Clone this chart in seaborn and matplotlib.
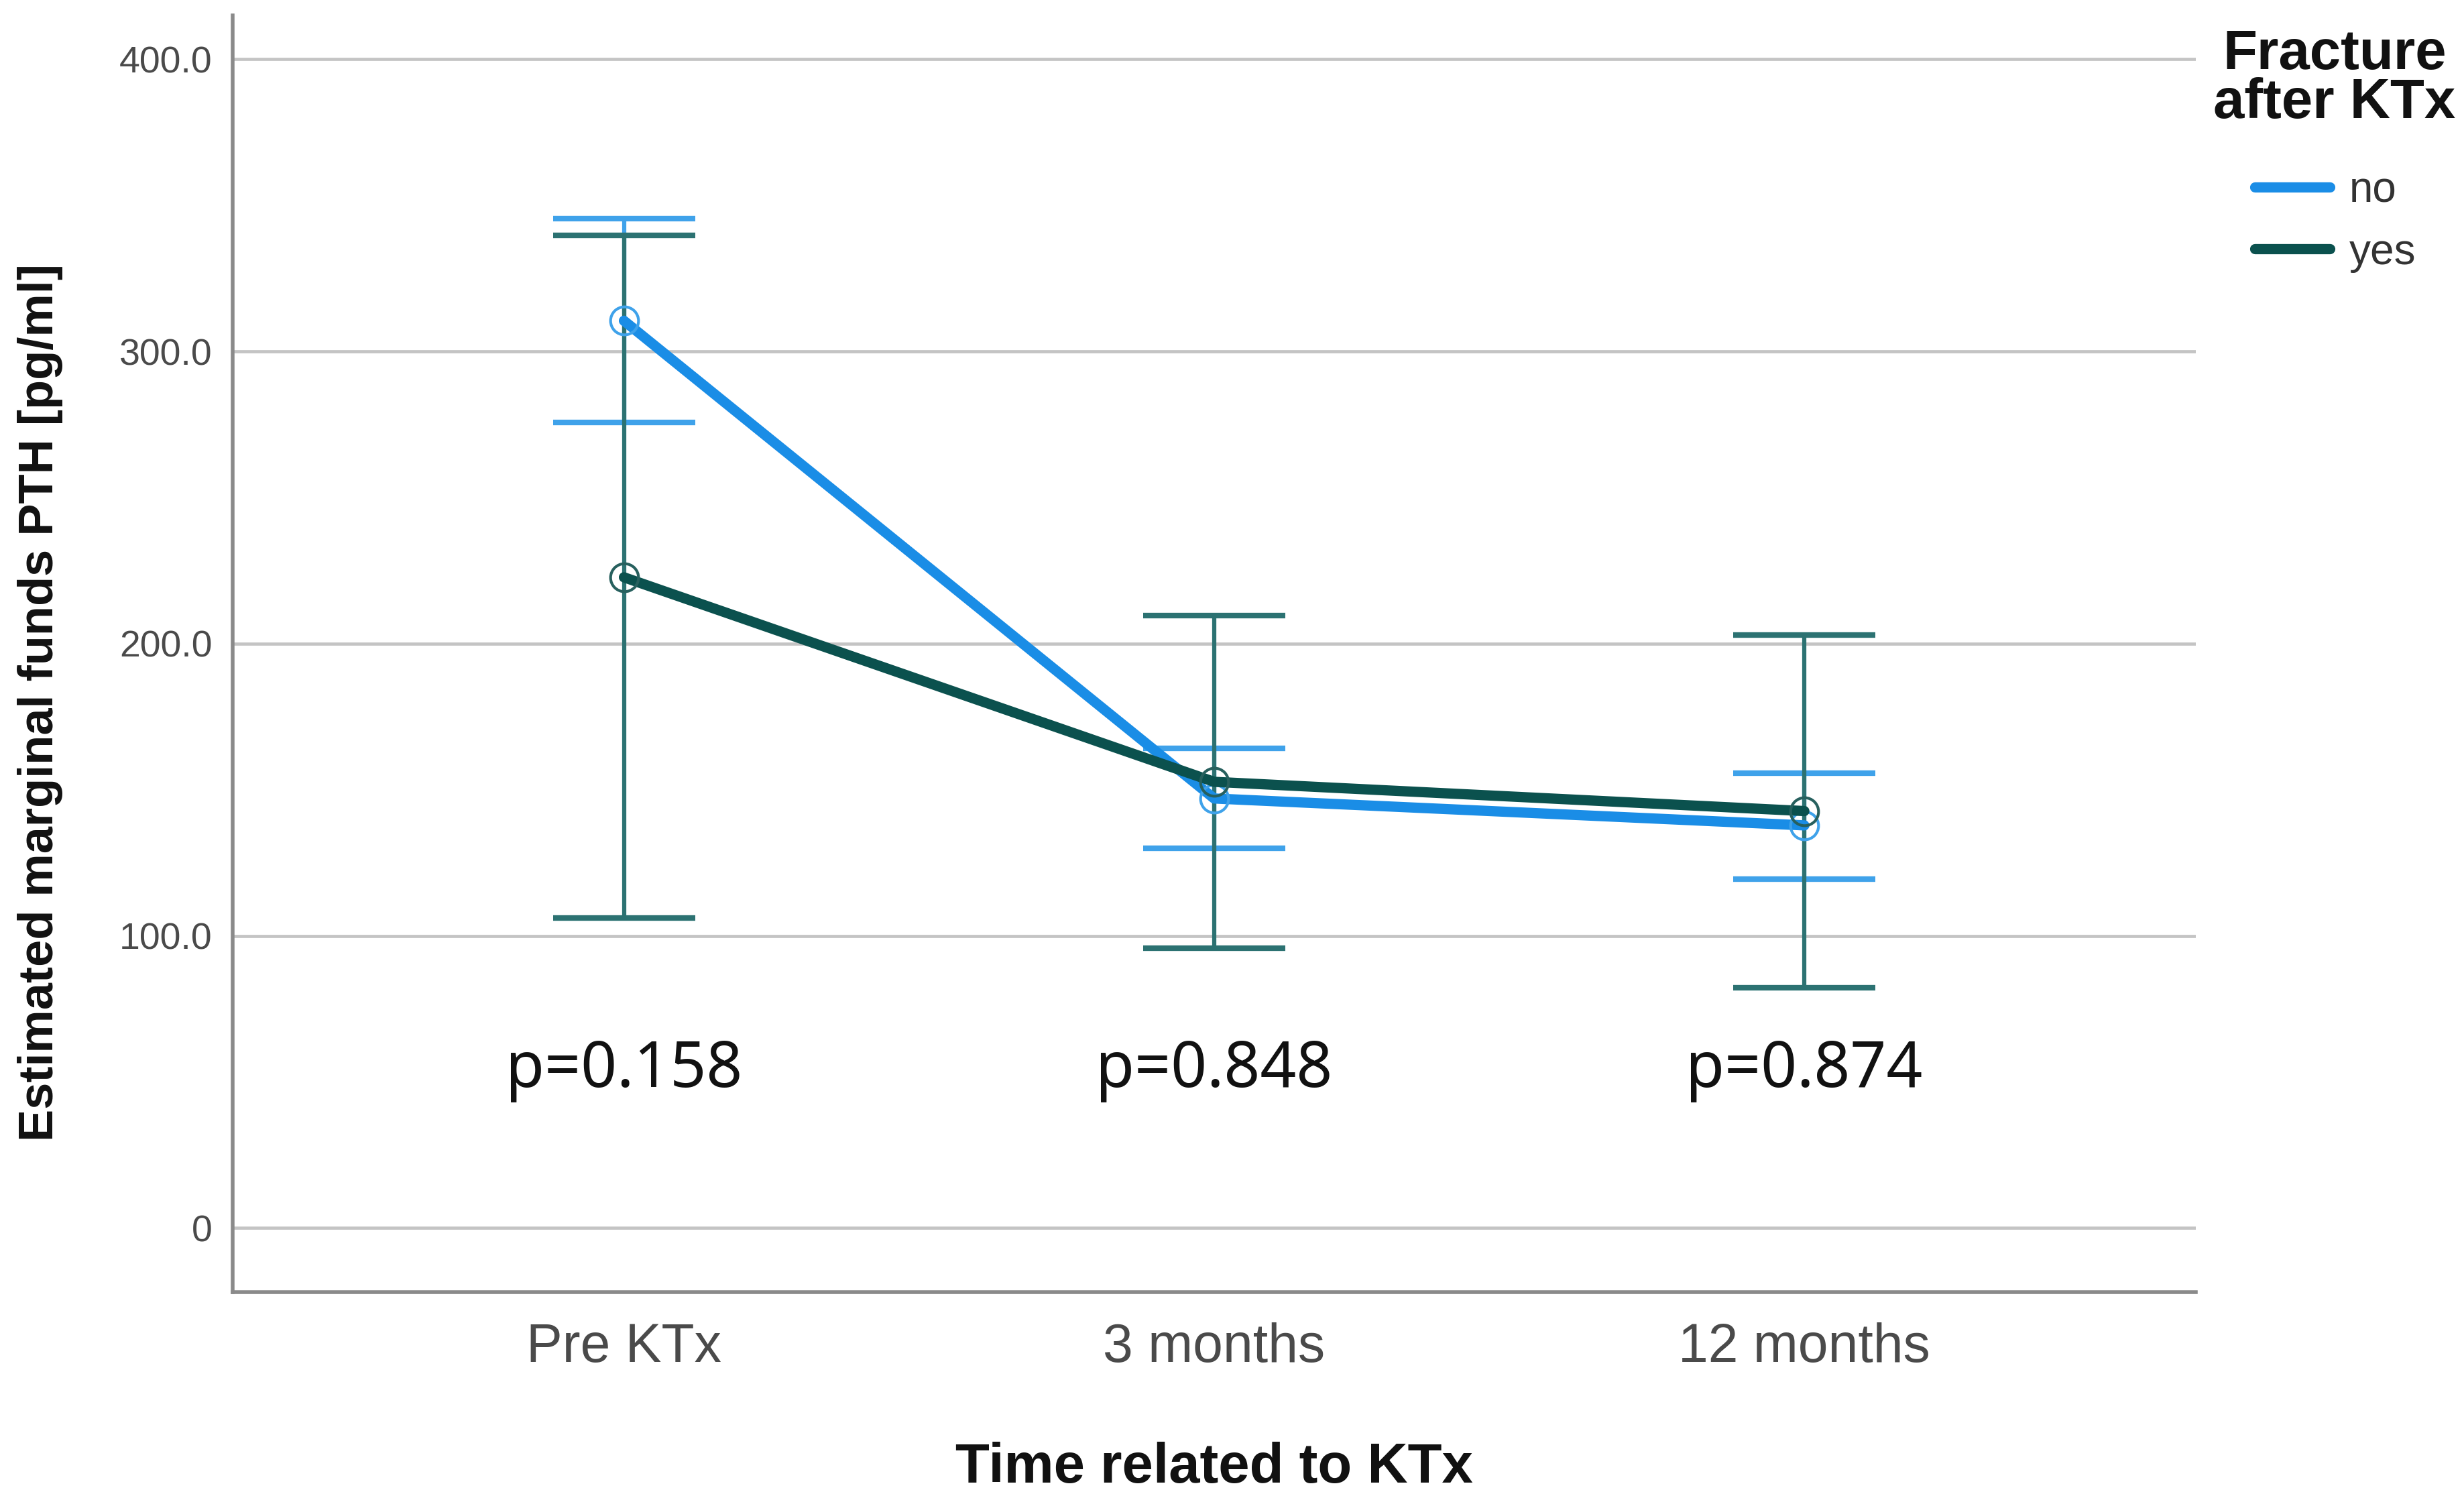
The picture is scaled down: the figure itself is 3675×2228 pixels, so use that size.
import matplotlib
matplotlib.use("Agg")
import matplotlib.pyplot as plt
from matplotlib.lines import Line2D
import seaborn as sns
import pandas as pd

# ---- data ----
categories = ["Pre KTx", "3 months", "12 months"]
no_mean = [310.5, 147.0, 137.8]
no_lo = [275.8, 129.9, 119.5]
no_hi = [345.4, 164.2, 155.6]
yes_mean = [222.7, 152.7, 142.7]
yes_lo = [106.0, 95.8, 82.3]
yes_hi = [339.7, 209.7, 202.9]
p_labels = ["p=0.158", "p=0.848", "p=0.874"]
group_labels = ["no", "yes"]
y_ticks = [0, 100, 200, 300, 400]
y_ticklabels = ["0", "100.0", "200.0", "300.0", "400.0"]

sns.set_theme(style="white")
plt.rcParams["font.family"] = ["Liberation Sans", "DejaVu Sans"]

line_colors = {"no": "#1a8de6", "yes": "#0b514e"}
err_colors = {"no": "#3fa2ea", "yes": "#2c7272"}
mark_colors = {"no": "#3fa2ea", "yes": "#27605e"}

df = pd.DataFrame({
    "time": categories * 2,
    "group": ["no"] * 3 + ["yes"] * 3,
    "value": no_mean + yes_mean,
    "lo": no_lo + yes_lo,
    "hi": no_hi + yes_hi,
})

fig = plt.figure(figsize=(36.75, 22.28), dpi=100)
ax = fig.add_axes([0.0944, 0.135, 0.7967, 0.8547])

for g in group_labels:
    sub = df[df["group"] == g]
    sns.lineplot(data=sub, x="time", y="value", ax=ax, color=line_colors[g],
                 lw=11, marker="o", markersize=30, markerfacecolor="none",
                 markeredgecolor=mark_colors[g], markeredgewidth=3,
                 sort=False, zorder=3 if g == "no" else 4, legend=False)

xs = list(range(len(categories)))
for g in group_labels:
    sub = df[df["group"] == g]
    m = sub["value"].to_numpy()
    lo = sub["lo"].to_numpy()
    hi = sub["hi"].to_numpy()
    ax.errorbar(xs, m, yerr=[m - lo, hi - m], fmt="none",
                ecolor=err_colors[g], elinewidth=4.5, capsize=76,
                capthick=6.0, zorder=2 if g == "no" else 2.5)

for x, t in zip(xs, p_labels):
    ax.text(x, 54, t, ha="center", va="center", fontsize=68,
            family=["Noto Sans", "DejaVu Sans"], color="#111111")

ax.set_xlim(-0.663, 2.663)
ax.set_ylim(-22, 415)
ax.set_yticks(y_ticks)
ax.set_yticklabels(y_ticklabels)
ax.set_xticks(xs)
ax.set_xticklabels(categories)
ax.yaxis.grid(True, color="#c4c4c4", lw=3.4)
ax.set_axisbelow(True)
ax.tick_params(axis="y", length=0, pad=22, labelsize=40, labelcolor="#4a4a4a")
ax.tick_params(axis="x", length=0, pad=32, labelsize=58, labelcolor="#4a4a4a")

for s in ["top", "right"]:
    ax.spines[s].set_visible(False)
for s in ["left", "bottom"]:
    ax.spines[s].set_color("#8a8a8a")
    ax.spines[s].set_linewidth(4)

ax.set_xlabel("Time related to KTx", fontsize=60, fontweight="bold",
              color="#111111", labelpad=74)
ax.set_ylabel("Estimated marginal funds PTH [pg/ml]", fontsize=52,
              fontweight="bold", color="#111111")
ax.yaxis.set_label_coords(-0.0865, 0.462)

fig.text(0.9475, 0.981, "Fracture\nafter KTx", ha="center", va="top",
         fontsize=60, fontweight="bold", color="#111111", linespacing=0.92)

handles = [Line2D([0], [0], color=line_colors[g], lw=11) for g in group_labels]
leg = ax.legend(handles, group_labels, loc="upper left",
                bbox_to_anchor=(0.9065, 0.9),
                bbox_transform=fig.transFigure, frameon=False,
                fontsize=46, handlelength=1.75,
                handletextpad=0.45, labelspacing=0.5, borderpad=0)
for t in leg.get_texts():
    t.set_color("#333333")

fig.savefig("out.png", dpi=100)
